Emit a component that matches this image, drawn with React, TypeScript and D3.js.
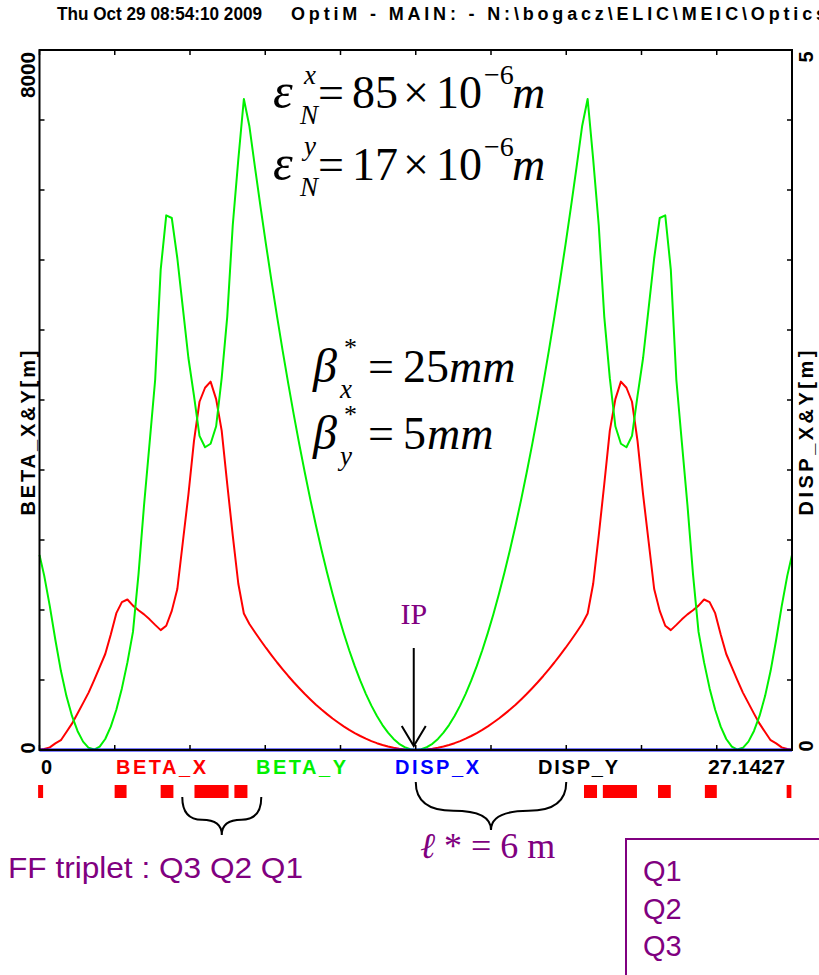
import React from 'react';
import * as d3 from 'd3';

// ---------- data ----------
const S_END = 27.1427;
const IP_S = 13.5714;
// sampling grid along the beamline [m]
const S_GRID: number[] = [0, ...d3.range(135).map((j) => 0.1714 + 0.2 * j), S_END];

// BETA_X [m] (red)
const BETA_X: number[] = [
  3, 12, 30, 75, 112, 206, 301, 416, 536, 656, 798, 947, 1097, 1320, 1564, 1690, 1720, 1650, 1597, 1550,
  1493, 1430, 1370, 1420, 1590, 1840, 2380, 2920, 3530, 3980, 4140, 4210, 4010, 3650, 3040, 2450, 1900, 1560,
  1440, 1346, 1254, 1166, 1082, 1000, 922, 846, 774, 706, 640, 578, 518, 462, 410, 360, 314, 270, 230, 194,
  160, 130, 102, 78, 58, 40, 26, 14, 6, 2, 0,
  2, 6, 14, 26, 40, 58, 78, 102, 130, 160, 194, 230, 270, 314, 360, 410, 462, 518, 578, 640, 706, 774, 846,
  922, 1000, 1082, 1166, 1254, 1346, 1440, 1560, 1900, 2450, 3040, 3650, 4010, 4210, 4140, 3980, 3530, 2920,
  2380, 1840, 1590, 1420, 1370, 1430, 1493, 1550, 1597, 1650, 1720, 1690, 1564, 1320, 1097, 947, 798, 656,
  536, 416, 301, 206, 112, 75, 30, 12, 3,
];

// BETA_Y [m] (green)
const BETA_Y: number[] = [
  2230, 1990, 1645, 1260, 905, 616, 389, 218, 96, 25, 5, 38, 126, 267, 460, 704, 1001, 1350, 2010, 2800,
  3510, 4229, 5490, 6110, 6080, 5620, 5050, 4480, 4050, 3590, 3460, 3500, 3700, 4250, 4950, 6000, 6750, 7440,
  7128, 6661, 6209, 5774, 5354, 4950, 4562, 4190, 3833, 3493, 3168, 2859, 2566, 2289, 2028, 1782, 1552, 1338,
  1140, 958, 792, 642, 507, 388, 285, 198, 127, 71, 32, 8, 0,
  8, 32, 71, 127, 198, 285, 388, 507, 642, 792, 958, 1140, 1338, 1552, 1782, 2028, 2289, 2566, 2859, 3168,
  3493, 3833, 4190, 4562, 4950, 5354, 5774, 6209, 6661, 7128, 7440, 6750, 6000, 4950, 4250, 3700, 3500, 3460,
  3590, 4050, 4480, 5050, 5620, 6080, 6110, 5490, 4229, 3510, 2800, 2010, 1350, 1001, 704, 460, 267, 126, 38,
  5, 25, 96, 218, 389, 616, 905, 1260, 1645, 1990, 2230,
];

// dispersion (both zero everywhere)
const DISP_S: number[] = [0, S_END];
const DISP_X: number[] = [0, 0];
const DISP_Y: number[] = [0, 0];

// magnet elements [start, end] in m
const MAGNETS: [number, number][] = [
  [-0.05, 0.13], [2.71, 3.14], [4.37, 4.83], [5.59, 6.82], [7.03, 7.5],
  [19.64, 20.11], [20.32, 21.55], [22.31, 22.77], [24.0, 24.43], [26.95, 27.12],
];

const BETA_MAX = 8000;
const DISP_MAX = 5;
const N_TICKS = 10;

const HEADER_DATE = 'Thu Oct 29 08:54:10 2009';
const HEADER_FILE = 'OptiM - MAIN: - N:\\bogacz\\ELIC\\MEIC\\Optics';

const LEGEND_ITEMS = ['Q1', 'Q2', 'Q3'];

// ---------- layout ----------
const W = 819;
const H = 975;
const L = 39.5;
const R = 792;
const T = 50;
const B = 750;

const SANS = '"Liberation Sans", Arial, sans-serif';
const SERIF = '"Liberation Serif", "Times New Roman", serif';
const PURPLE = '#800080';
const GREEN = '#00f000';
const RED = '#ff0000';

function brace(x1: number, x2: number, yt: number, yTip: number) {
  const xm = (x1 + x2) / 2;
  const ym = yt + (yTip - yt) * 0.6;
  return (
    `M${x1},${yt} Q${x1},${ym} ${(x1 + xm) / 2},${ym} Q${xm},${ym} ${xm},${yTip} ` +
    `M${x2},${yt} Q${x2},${ym} ${(x2 + xm) / 2},${ym} Q${xm},${ym} ${xm},${yTip}`
  );
}

export default function App() {
  const x = d3.scaleLinear().domain([0, S_END]).range([L, R]);
  const yB = d3.scaleLinear().domain([0, BETA_MAX]).range([B, T]);
  const yD = d3.scaleLinear().domain([0, DISP_MAX]).range([B, T]);

  const lineB = d3
    .line<number>()
    .x((_, i) => x(S_GRID[i]))
    .y((d) => yB(d))
    .curve(d3.curveLinear);
  const lineD = d3
    .line<number>()
    .x((_, i) => x(DISP_S[i]))
    .y((d) => yD(d));

  const xTicks = d3.range(N_TICKS + 1).map((k) => (S_END * k) / N_TICKS);
  const yTicks = d3.range(N_TICKS + 1).map((k) => (BETA_MAX * k) / N_TICKS);
  const dTicks = d3.range(N_TICKS + 1).map((k) => (DISP_MAX * k) / N_TICKS);

  const ipX = x(IP_S);

  return (
    <svg
      width={W}
      height={H}
      style={{ position: 'absolute', left: 0, top: 0, background: '#fff' }}
      xmlns="http://www.w3.org/2000/svg"
    >
      <rect x={0} y={0} width={W} height={H} fill="#fff" />
      {/* header */}
      <text x={57} y={20} fontFamily={SANS} fontWeight="bold" fontSize={17.5} textLength={205} lengthAdjust="spacingAndGlyphs">
        {HEADER_DATE}
      </text>
      <text x={291} y={20} fontFamily={SANS} fontWeight="bold" fontSize={18} textLength={535} lengthAdjust="spacing">
        {HEADER_FILE}
      </text>

      {/* curves */}
      <path d={lineB(BETA_X) || ''} fill="none" stroke={RED} strokeWidth={2} strokeLinejoin="round" />
      <path d={lineB(BETA_Y) || ''} fill="none" stroke={GREEN} strokeWidth={2} strokeLinejoin="round" />
      <path d={lineD(DISP_X) || ''} fill="none" stroke="#0000ff" strokeWidth={3} />
      <path d={lineD(DISP_Y) || ''} fill="none" stroke="#000022" strokeWidth={2} />

      {/* frame */}
      <rect x={L} y={T} width={R - L} height={B - T} fill="none" stroke="#000" strokeWidth={2} />
      {xTicks.map((t, i) => (
        <g key={'xt' + i}>
          <line x1={x(t)} x2={x(t)} y1={T} y2={T + 5} stroke="#000" strokeWidth={1.5} />
          <line x1={x(t)} x2={x(t)} y1={B} y2={B - 5} stroke="#000" strokeWidth={1.5} />
        </g>
      ))}
      {yTicks.map((t, i) => (
        <line key={'yt' + i} x1={L} x2={L + 5} y1={yB(t)} y2={yB(t)} stroke="#000" strokeWidth={1.5} />
      ))}
      {dTicks.map((t, i) => (
        <line key={'dt' + i} x1={R} x2={R - 5} y1={yD(t)} y2={yD(t)} stroke="#000" strokeWidth={1.5} />
      ))}

      {/* axis labels */}
      <g fontFamily={SANS} fontWeight="bold" fontSize={20}>
        <text transform={`translate(35,${yB(BETA_MAX) + 2}) rotate(-90)`} textAnchor="end" textLength={46} lengthAdjust="spacingAndGlyphs">
          {String(BETA_MAX)}
        </text>
        <text transform={`translate(35,${yB(0) - 2}) rotate(-90)`} textAnchor="middle">
          0
        </text>
        <text transform={`translate(35,${(T + B) / 2 + 33}) rotate(-90)`} textAnchor="middle" textLength={165} lengthAdjust="spacing">
          BETA_X&amp;Y[m]
        </text>
        <text transform={`translate(813,${yD(DISP_MAX) + 7}) rotate(-90)`} textAnchor="middle">
          {String(DISP_MAX)}
        </text>
        <text transform={`translate(813,${yD(0) - 4}) rotate(-90)`} textAnchor="middle">
          0
        </text>
        <text transform={`translate(813,${(T + B) / 2 + 33}) rotate(-90)`} textAnchor="middle" textLength={165} lengthAdjust="spacing">
          DISP_X&amp;Y[m]
        </text>

        <text x={41} y={774}>0</text>
        <text x={116} y={774} fill={RED} textLength={90} lengthAdjust="spacing">BETA_X</text>
        <text x={256} y={774} fill={GREEN} textLength={90} lengthAdjust="spacing">BETA_Y</text>
        <text x={395} y={774} fill="#0000ff" textLength={84} lengthAdjust="spacing">DISP_X</text>
        <text x={538} y={774} fill="#000" textLength={80} lengthAdjust="spacing">DISP_Y</text>
        <text x={785} y={774} textAnchor="end" textLength={77} lengthAdjust="spacingAndGlyphs">{String(S_END)}</text>
      </g>

      {/* magnets */}
      {MAGNETS.map(([a, b], i) => (
        <rect key={'m' + i} x={x(a)} y={785} width={x(b) - x(a)} height={13} fill={RED} />
      ))}

      {/* braces */}
      <path d={brace(x(5.15), x(8.0), 797, 835)} fill="none" stroke="#000" strokeWidth={2} />
      <path d={brace(ipX, x(19.0), 782, 830)} fill="none" stroke="#000" strokeWidth={2} />

      {/* IP arrow */}
      <text x={ipX - 2} y={624} textAnchor="middle" fontFamily={SERIF} fontSize={30} fill={PURPLE}>
        IP
      </text>
      <line x1={ipX - 2} x2={ipX - 2} y1={648} y2={745} stroke="#000" strokeWidth={2} />
      <path d={`M${ipX - 14},${726} L${ipX - 2},${746} L${ipX + 10},${726}`} fill="none" stroke="#000" strokeWidth={2} />

      {/* emittance formulas */}
      <g fontFamily={SERIF} fill="#000">
        <text x={273} y={108} fontSize={50} fontStyle="italic">ε</text>
        <text x={304} y={84} fontSize={27} fontStyle="italic">x</text>
        <text x={300} y={124} fontSize={27} fontStyle="italic">N</text>
        <text x={318} y={108} fontSize={46}>=</text>
        <text x={352} y={108} fontSize={46}>85</text>
        <text x={403} y={108} fontSize={46}>×</text>
        <text x={436} y={108} fontSize={46}>10</text>
        <text x={484} y={84} fontSize={28}>−6</text>
        <text x={512} y={108} fontSize={46} fontStyle="italic">m</text>

        <text x={273} y={180} fontSize={50} fontStyle="italic">ε</text>
        <text x={304} y={155} fontSize={27} fontStyle="italic">y</text>
        <text x={300} y={196} fontSize={27} fontStyle="italic">N</text>
        <text x={318} y={180} fontSize={46}>=</text>
        <text x={352} y={180} fontSize={46}>17</text>
        <text x={403} y={180} fontSize={46}>×</text>
        <text x={436} y={180} fontSize={46}>10</text>
        <text x={484} y={156} fontSize={28}>−6</text>
        <text x={512} y={180} fontSize={46} fontStyle="italic">m</text>

        <text x={313} y={382} fontSize={48} fontStyle="italic">β</text>
        <text x={344} y={356} fontSize={26}>*</text>
        <text x={340} y={398} fontSize={27} fontStyle="italic">x</text>
        <text x={368} y={382} fontSize={46}>=</text>
        <text x={403} y={382} fontSize={46}>25</text>
        <text x={449} y={382} fontSize={46} fontStyle="italic">mm</text>

        <text x={313} y={449} fontSize={48} fontStyle="italic">β</text>
        <text x={344} y={423} fontSize={26}>*</text>
        <text x={340} y={465} fontSize={27} fontStyle="italic">y</text>
        <text x={368} y={449} fontSize={46}>=</text>
        <text x={403} y={449} fontSize={46}>5</text>
        <text x={427} y={449} fontSize={46} fontStyle="italic">mm</text>
      </g>

      {/* annotations */}
      <text x={8} y={878} fontFamily={SANS} fontSize={30} fill={PURPLE} textLength={295} lengthAdjust="spacingAndGlyphs">
        FF triplet : Q3 Q2 Q1
      </text>
      <text x={420} y={858} fontFamily={SERIF} fontSize={36} fill={PURPLE}>
        <tspan fontStyle="italic">ℓ</tspan>
        <tspan> * = 6 m</tspan>
      </text>

      {/* legend box */}
      <path d={`M626,${H} L626,839 L${W},839`} fill="none" stroke={PURPLE} strokeWidth={2} />
      {LEGEND_ITEMS.map((q, i) => (
        <text key={q} x={643} y={881 + i * 37.5} fontFamily={SANS} fontSize={29} fill={PURPLE}>
          {q}
        </text>
      ))}
    </svg>
  );
}
